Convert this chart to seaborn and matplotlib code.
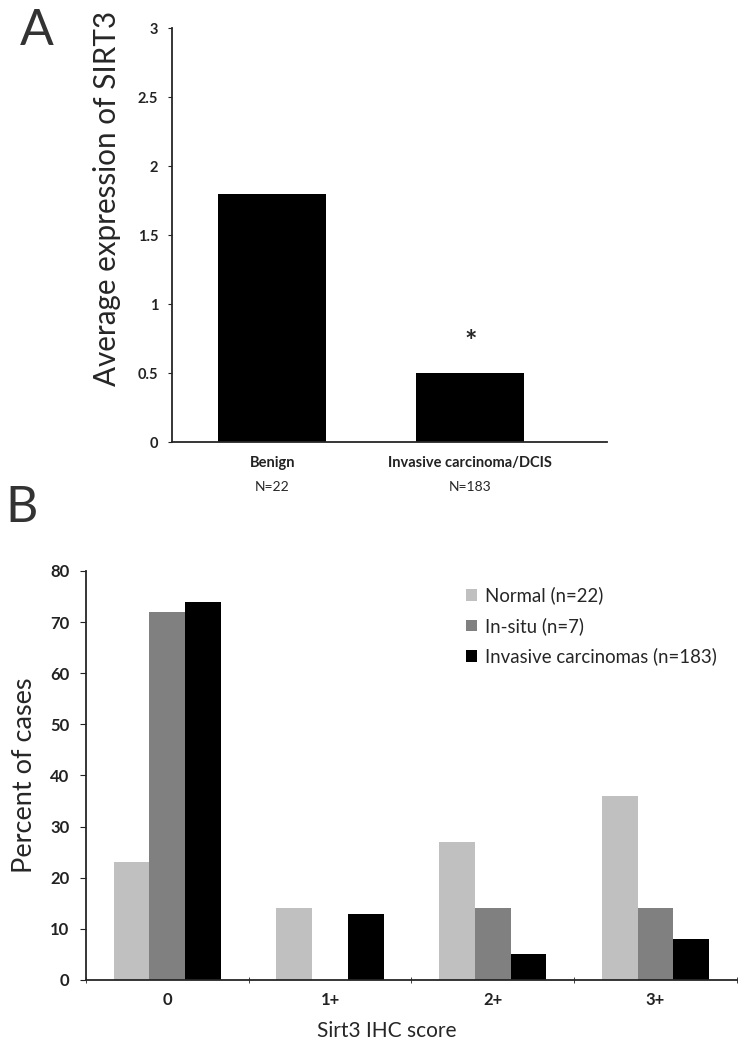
import pandas as pd
import seaborn as sns
import matplotlib.pyplot as plt
from matplotlib.transforms import blended_transform_factory

# Panel A: average SIRT3 expression
groups_a = ["Benign", "Invasive carcinoma/DCIS"]
n_a = ["N=22", "N=183"]
sirt3_avg = [1.8, 0.5]

# Panel B: distribution of IHC scores
scores = ["0", "1+", "2+", "3+"]
normal = [23, 14, 27, 36]
in_situ = [72, 0, 14, 14]
invasive = [74, 13, 5, 8]
series_names = ["Normal (n=22)", "In-situ (n=7)", "Invasive carcinomas (n=183)"]
colors = ["#c0c0c0", "#808080", "#000000"]

sns.set_style("ticks")
plt.rcParams["font.family"] = ["Lato", "DejaVu Sans"]
plt.rcParams["axes.linewidth"] = 1.3
plt.rcParams["xtick.color"] = "#222222"
plt.rcParams["ytick.color"] = "#222222"

fig = plt.figure(figsize=(7.48, 10.5), dpi=100)
ax1 = fig.add_axes([0.230, 0.579, 0.5816, 0.394])
ax2 = fig.add_axes([0.115, 0.0667, 0.870, 0.3895])

# ---- A ----
dfa = pd.DataFrame({"group": groups_a, "value": sirt3_avg})
sns.barplot(data=dfa, x="group", y="value", color="black", width=0.545,
            saturation=1, linewidth=0, ax=ax1)
ax1.set_xlim(-0.505, 1.69)
ax1.set_ylim(0, 3)
ax1.set_yticks([0, 0.5, 1, 1.5, 2, 2.5, 3])
ax1.set_yticklabels(["0", "0.5", "1", "1.5", "2", "2.5", "3"], fontweight="bold", fontsize=10.5)
ax1.set_xticks(range(len(groups_a)))
ax1.set_xticklabels(groups_a, fontweight="bold", fontsize=10.5)
ax1.tick_params(axis="x", length=0, pad=10)
ax1.tick_params(axis="y", length=3, pad=7)
ax1.set_xlabel("")
ax1.set_ylabel("Average expression of SIRT3", fontsize=21.3)
ax1.yaxis.set_label_coords(-0.118, 0.589)
sns.despine(ax=ax1)

tr = blended_transform_factory(ax1.transData, ax1.transAxes)
for i, n in enumerate(n_a):
    ax1.text(i, -0.108, n, transform=tr, ha="center", va="center", fontsize=10)
ax1.text(1, 0.67, "*", ha="center", va="baseline", fontsize=21, fontweight="bold")

# ---- B ----
rows = []
for name, vals in zip(series_names, [normal, in_situ, invasive]):
    for s, v in zip(scores, vals):
        rows.append({"score": s, "pct": v, "series": name})
dfb = pd.DataFrame(rows)

sns.barplot(data=dfb, x="score", y="pct", hue="series", hue_order=series_names,
            palette=colors, width=0.66, saturation=1, linewidth=0, ax=ax2)
ax2.set_xlim(-0.5, 3.5)
ax2.set_ylim(0, 80)
ax2.set_yticks(range(0, 81, 10))
ax2.set_yticklabels([str(v) for v in range(0, 81, 10)], fontweight="bold", fontsize=12)
ax2.set_xticks(range(len(scores)))
ax2.set_xticklabels(scores, fontweight="bold", fontsize=12)
ax2.set_xticks([-0.5, 0.5, 1.5, 2.5, 3.5], minor=True)
ax2.tick_params(axis="x", which="major", length=0, pad=9)
ax2.tick_params(axis="x", which="minor", length=4, direction="inout")
ax2.tick_params(axis="y", length=4, pad=8)
ax2.set_xlabel("Sirt3 IHC score", fontsize=15)
ax2.xaxis.set_label_coords(0.462, -0.1)
ax2.set_ylabel("Percent of cases", fontsize=19.5)
ax2.yaxis.set_label_coords(-0.075, 0.5)
sns.despine(ax=ax2)
ax2.legend(frameon=False, loc="upper left", bbox_to_anchor=(0.584, 0.962),
           fontsize=13.4, handlelength=0.6, handleheight=0.6, handletextpad=0.4,
           labelspacing=0.68, borderpad=0, borderaxespad=0)

fig.text(0.027, 0.957, "A", fontsize=36, color="#333333", va="baseline", ha="left")
fig.text(0.007, 0.503, "B", fontsize=36, color="#333333", va="baseline", ha="left")

fig.savefig("out.png", dpi=100)
